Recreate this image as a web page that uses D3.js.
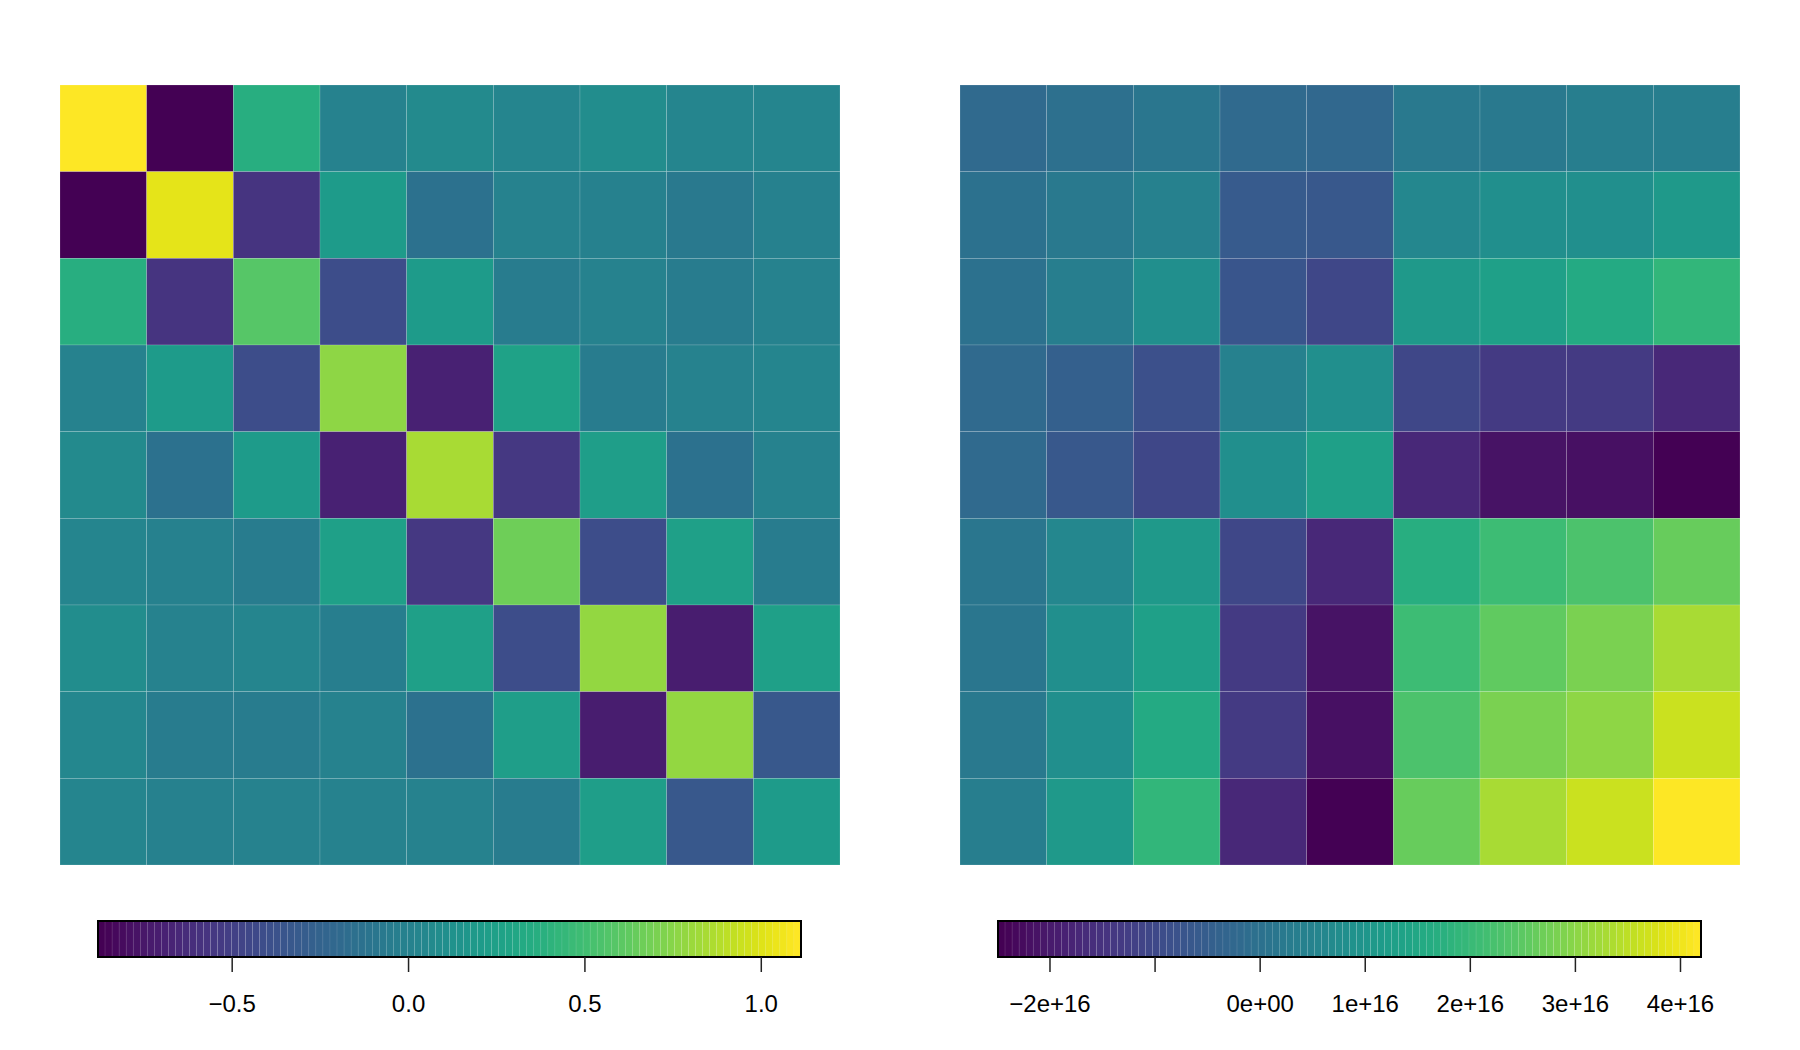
<!DOCTYPE html>
<html>
<head>
<meta charset="utf-8">
<script src="https://cdn.jsdelivr.net/npm/d3@7"></script>
<style>
  body { margin: 0; background: #fff; }
  svg text { font-family: "Liberation Sans", Arial, sans-serif; }
</style>
</head>
<body>
<div id="chart"></div>
<script>
// Left matrix, rows top to bottom as drawn
const leftValues = [
  [ 1.114, -0.879,  0.357,  0.00,  0.06,  0.02,  0.08,  0.02,  0.02],
  [-0.879,  1.03,  -0.58,   0.20, -0.14,  0.00, -0.02, -0.08, -0.02],
  [ 0.357, -0.58,   0.58,  -0.42,  0.20, -0.06,  0.00, -0.06,  0.00],
  [ 0.00,   0.20,  -0.42,   0.77, -0.68,  0.26, -0.06,  0.00,  0.02],
  [ 0.06,  -0.14,   0.20,  -0.68,  0.85, -0.56,  0.22, -0.14,  0.00],
  [ 0.02,  -0.02,  -0.06,   0.24, -0.56,  0.66, -0.42,  0.24, -0.06],
  [ 0.08,   0.00,   0.02,  -0.04,  0.24, -0.42,  0.78, -0.70,  0.24],
  [ 0.04,  -0.06,  -0.06,   0.00, -0.14,  0.22, -0.70,  0.78, -0.34],
  [ 0.02,  -0.02,   0.00,   0.00,  0.00, -0.06,  0.22, -0.34,  0.20]
];

// Right matrix (units of 1e16), rows top to bottom as drawn
const rightValues = [
  [-0.15, -0.08,  0.12, -0.15, -0.22,  0.19,  0.19,  0.32,  0.32],
  [-0.01,  0.19,  0.45, -0.55, -0.68,  0.65,  0.85,  0.85,  1.12],
  [-0.01,  0.32,  0.79, -0.75, -1.08,  1.12,  1.32,  1.59,  1.86],
  [-0.15, -0.48, -0.82,  0.45,  0.79, -1.08, -1.29, -1.35, -1.75],
  [-0.15, -0.68, -1.08,  0.79,  1.26, -1.75, -2.09, -2.16, -2.49],
  [ 0.12,  0.65,  1.12, -1.08, -1.75,  1.72,  2.06,  2.26,  2.66],
  [ 0.12,  0.79,  1.32, -1.35, -2.09,  2.06,  2.53,  2.86,  3.33],
  [ 0.19,  0.79,  1.59, -1.35, -2.16,  2.26,  2.86,  3.06,  3.60],
  [ 0.32,  1.06,  1.86, -1.75, -2.49,  2.66,  3.33,  3.60,  4.20]
];

const leftTicks = [-0.5, 0, 0.5, 1.0];
const leftTickLabels = ["\u22120.5", "0.0", "0.5", "1.0"];
const rightTicks = [-2, -1, 0, 1, 2, 3, 4];
const rightTickLabels = ["\u22122e+16", "", "0e+00", "1e+16", "2e+16", "3e+16", "4e+16"];

const nLevels = 100;
const palette = d3.range(nLevels).map(i => d3.interpolateViridis(i / (nLevels - 1)));

const width = 1800, height = 1050;
const svg = d3.select('#chart').append('svg')
    .attr('width', width)
    .attr('height', height);

function drawPanel(values, ticks, tickLabels, panelX, barX) {
    const n = values.length;
    const size = 780;
    const top = 85;
    const flat = values.flat();
    const extent = d3.extent(flat);

    const color = d3.scaleQuantize().domain(extent).range(palette);
    const x = d3.scaleBand().domain(d3.range(n)).range([panelX, panelX + size]);
    const y = d3.scaleBand().domain(d3.range(n)).range([top, top + size]);

    const cells = [];
    values.forEach((row, r) => row.forEach((v, c) => cells.push({ r, c, v })));

    svg.append('g')
        .selectAll('rect')
        .data(cells)
        .enter()
        .append('rect')
        .attr('x', d => x(d.c))
        .attr('y', d => y(d.r))
        .attr('width', x.bandwidth())
        .attr('height', y.bandwidth())
        .attr('fill', d => color(d.v))
        .attr('stroke', 'rgba(255,255,255,0.22)')
        .attr('stroke-width', 0.7);

    // colour bar
    const barTop = 921, barH = 36, barW = 703;
    const bx = d3.scaleLinear().domain(extent).range([barX, barX + barW]);
    const step = (extent[1] - extent[0]) / nLevels;
    const levels = d3.range(nLevels).map(i => extent[0] + i * step);

    const bar = svg.append('g');
    bar.selectAll('rect')
        .data(levels)
        .enter()
        .append('rect')
        .attr('x', d => bx(d))
        .attr('y', barTop)
        .attr('width', bx(extent[0] + step) - bx(extent[0]))
        .attr('height', barH)
        .attr('fill', (d, i) => palette[i])
        .attr('stroke', 'rgba(255,255,255,0.18)')
        .attr('stroke-width', 0.4);

    bar.append('rect')
        .attr('x', barX)
        .attr('y', barTop)
        .attr('width', barW)
        .attr('height', barH)
        .attr('fill', 'none')
        .attr('stroke', '#000')
        .attr('stroke-width', 2);

    const axis = d3.axisBottom(bx)
        .tickValues(ticks)
        .tickSize(15)
        .tickPadding(23)
        .tickFormat((d, i) => tickLabels[i]);

    const g = svg.append('g')
        .attr('transform', `translate(0,${barTop + barH})`)
        .call(axis);
    g.select('.domain').remove();
    g.selectAll('.tick line').attr('stroke', '#222').attr('stroke-width', 1.5);
    g.selectAll('.tick text')
        .attr('fill', '#000')
        .style('font-size', '24px')
        .style('font-family', '"Liberation Sans", Arial, sans-serif');
}

drawPanel(leftValues, leftTicks, leftTickLabels, 60, 98);
drawPanel(rightValues, rightTicks, rightTickLabels, 960, 998);
</script>
</body>
</html>
